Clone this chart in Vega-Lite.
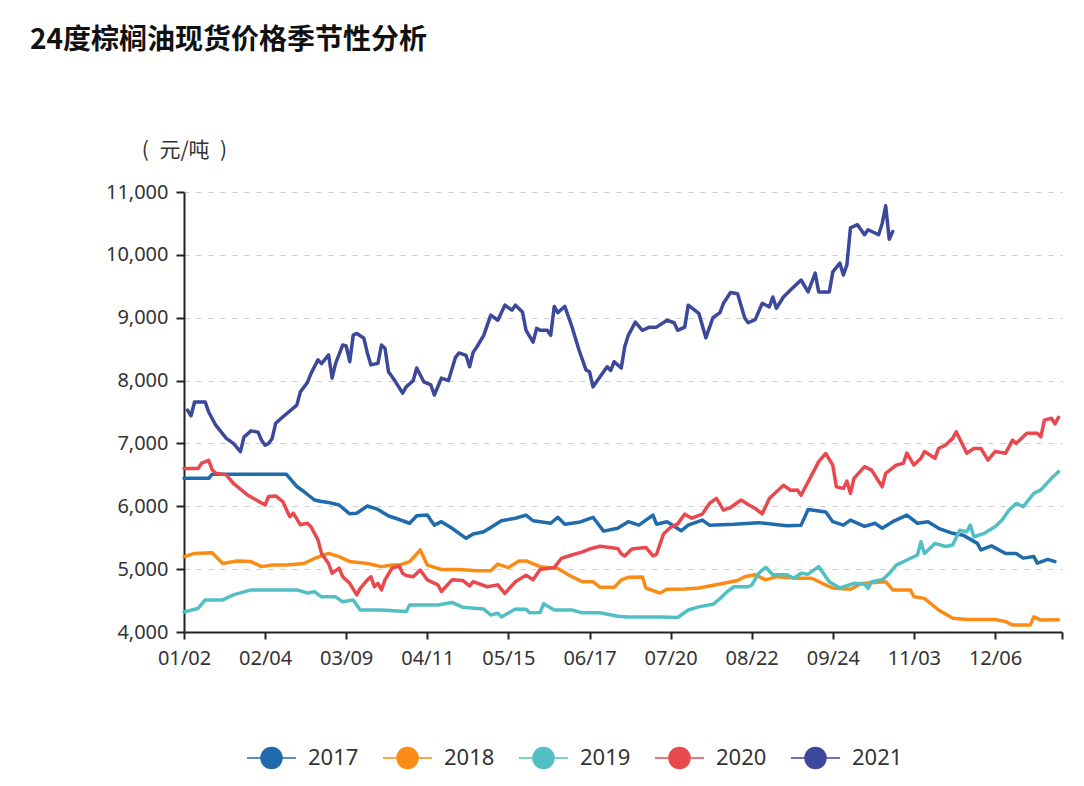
{
  "$schema": "https://vega.github.io/schema/vega-lite/v6.json",
  "width": 878,
  "height": 440,
  "autosize": {"type": "none"},
  "padding": {"left": 184, "top": 192, "right": 22, "bottom": 154},
  "background": "#ffffff",
  "title": {
    "text": "24度棕榈油现货价格季节性分析",
    "anchor": "start",
    "frame": "group",
    "orient": "top",
    "offset": 0,
    "dx": -154,
    "dy": -84,
    "font": "Noto Sans CJK SC",
    "fontSize": 28,
    "fontWeight": "bold",
    "color": "#111111"
  },
  "config": {
    "view": {"stroke": null},
    "axis": {"labelFont": "Noto Sans", "titleFont": "Noto Sans CJK SC"}
  },
  "data": {
    "values": [
      {"s":"2017","i":0,"v":6445},{"s":"2017","i":7,"v":6445},{"s":"2017","i":8,"v":6510},{"s":"2017","i":29,"v":6510},{"s":"2017","i":32,"v":6315},{"s":"2017","i":34,"v":6235},{"s":"2017","i":37,"v":6100},{"s":"2017","i":39,"v":6075},{"s":"2017","i":41,"v":6060},{"s":"2017","i":44,"v":6020},{"s":"2017","i":47,"v":5880},{"s":"2017","i":49,"v":5890},{"s":"2017","i":52,"v":6005},{"s":"2017","i":55,"v":5950},{"s":"2017","i":58,"v":5845},{"s":"2017","i":60,"v":5810},{"s":"2017","i":64,"v":5730},{"s":"2017","i":66,"v":5850},{"s":"2017","i":69,"v":5860},{"s":"2017","i":71,"v":5700},{"s":"2017","i":73,"v":5755},{"s":"2017","i":76,"v":5650},{"s":"2017","i":80,"v":5490},{"s":"2017","i":82,"v":5560},{"s":"2017","i":85,"v":5595},{"s":"2017","i":88,"v":5700},{"s":"2017","i":90,"v":5770},{"s":"2017","i":94,"v":5810},{"s":"2017","i":97,"v":5860},{"s":"2017","i":99,"v":5770},{"s":"2017","i":104,"v":5730},{"s":"2017","i":106,"v":5825},{"s":"2017","i":108,"v":5715},{"s":"2017","i":112,"v":5745},{"s":"2017","i":116,"v":5825},{"s":"2017","i":119,"v":5605},{"s":"2017","i":123,"v":5650},{"s":"2017","i":126,"v":5755},{"s":"2017","i":129,"v":5700},{"s":"2017","i":133,"v":5860},{"s":"2017","i":134,"v":5715},{"s":"2017","i":137,"v":5755},{"s":"2017","i":141,"v":5610},{"s":"2017","i":143,"v":5700},{"s":"2017","i":147,"v":5780},{"s":"2017","i":149,"v":5700},{"s":"2017","i":156,"v":5715},{"s":"2017","i":163,"v":5740},{"s":"2017","i":171,"v":5690},{"s":"2017","i":175,"v":5700},{"s":"2017","i":177,"v":5950},{"s":"2017","i":182,"v":5910},{"s":"2017","i":184,"v":5755},{"s":"2017","i":187,"v":5700},{"s":"2017","i":189,"v":5780},{"s":"2017","i":193,"v":5680},{"s":"2017","i":196,"v":5730},{"s":"2017","i":198,"v":5650},{"s":"2017","i":201,"v":5755},{"s":"2017","i":205,"v":5860},{"s":"2017","i":208,"v":5730},{"s":"2017","i":211,"v":5755},{"s":"2017","i":214,"v":5650},{"s":"2017","i":218,"v":5570},{"s":"2017","i":221,"v":5540},{"s":"2017","i":225,"v":5410},{"s":"2017","i":226,"v":5305},{"s":"2017","i":229,"v":5370},{"s":"2017","i":233,"v":5250},{"s":"2017","i":236,"v":5250},{"s":"2017","i":238,"v":5175},{"s":"2017","i":241,"v":5200},{"s":"2017","i":242,"v":5095},{"s":"2017","i":245,"v":5155},{"s":"2017","i":247,"v":5120},
      {"s":"2018","i":0,"v":5200},{"s":"2018","i":3,"v":5250},{"s":"2018","i":8,"v":5260},{"s":"2018","i":11,"v":5090},{"s":"2018","i":15,"v":5130},{"s":"2018","i":19,"v":5120},{"s":"2018","i":22,"v":5040},{"s":"2018","i":25,"v":5065},{"s":"2018","i":29,"v":5065},{"s":"2018","i":34,"v":5090},{"s":"2018","i":37,"v":5170},{"s":"2018","i":41,"v":5250},{"s":"2018","i":44,"v":5200},{"s":"2018","i":47,"v":5120},{"s":"2018","i":52,"v":5090},{"s":"2018","i":56,"v":5040},{"s":"2018","i":59,"v":5065},{"s":"2018","i":61,"v":5065},{"s":"2018","i":64,"v":5120},{"s":"2018","i":67,"v":5305},{"s":"2018","i":69,"v":5065},{"s":"2018","i":73,"v":4995},{"s":"2018","i":78,"v":4995},{"s":"2018","i":83,"v":4975},{"s":"2018","i":87,"v":4975},{"s":"2018","i":89,"v":5080},{"s":"2018","i":92,"v":5025},{"s":"2018","i":95,"v":5130},{"s":"2018","i":97,"v":5130},{"s":"2018","i":101,"v":5040},{"s":"2018","i":106,"v":5010},{"s":"2018","i":110,"v":4880},{"s":"2018","i":113,"v":4800},{"s":"2018","i":116,"v":4800},{"s":"2018","i":118,"v":4710},{"s":"2018","i":122,"v":4710},{"s":"2018","i":124,"v":4830},{"s":"2018","i":126,"v":4870},{"s":"2018","i":130,"v":4875},{"s":"2018","i":131,"v":4700},{"s":"2018","i":135,"v":4620},{"s":"2018","i":137,"v":4680},{"s":"2018","i":142,"v":4685},{"s":"2018","i":146,"v":4700},{"s":"2018","i":152,"v":4765},{"s":"2018","i":157,"v":4820},{"s":"2018","i":159,"v":4880},{"s":"2018","i":162,"v":4910},{"s":"2018","i":165,"v":4830},{"s":"2018","i":168,"v":4880},{"s":"2018","i":174,"v":4855},{"s":"2018","i":178,"v":4855},{"s":"2018","i":181,"v":4775},{"s":"2018","i":184,"v":4700},{"s":"2018","i":189,"v":4680},{"s":"2018","i":192,"v":4770},{"s":"2018","i":199,"v":4800},{"s":"2018","i":201,"v":4670},{"s":"2018","i":206,"v":4670},{"s":"2018","i":207,"v":4560},{"s":"2018","i":210,"v":4535},{"s":"2018","i":214,"v":4350},{"s":"2018","i":218,"v":4220},{"s":"2018","i":222,"v":4200},{"s":"2018","i":230,"v":4200},{"s":"2018","i":233,"v":4165},{"s":"2018","i":235,"v":4110},{"s":"2018","i":240,"v":4110},{"s":"2018","i":241,"v":4240},{"s":"2018","i":243,"v":4190},{"s":"2018","i":248,"v":4195},
      {"s":"2019","i":0,"v":4320},{"s":"2019","i":4,"v":4375},{"s":"2019","i":6,"v":4510},{"s":"2019","i":11,"v":4510},{"s":"2019","i":14,"v":4590},{"s":"2019","i":19,"v":4670},{"s":"2019","i":32,"v":4670},{"s":"2019","i":35,"v":4620},{"s":"2019","i":37,"v":4640},{"s":"2019","i":39,"v":4560},{"s":"2019","i":43,"v":4560},{"s":"2019","i":45,"v":4480},{"s":"2019","i":48,"v":4510},{"s":"2019","i":50,"v":4350},{"s":"2019","i":56,"v":4350},{"s":"2019","i":63,"v":4325},{"s":"2019","i":64,"v":4430},{"s":"2019","i":72,"v":4430},{"s":"2019","i":76,"v":4470},{"s":"2019","i":79,"v":4395},{"s":"2019","i":85,"v":4365},{"s":"2019","i":87,"v":4270},{"s":"2019","i":89,"v":4300},{"s":"2019","i":90,"v":4240},{"s":"2019","i":94,"v":4365},{"s":"2019","i":97,"v":4360},{"s":"2019","i":98,"v":4305},{"s":"2019","i":101,"v":4310},{"s":"2019","i":102,"v":4450},{"s":"2019","i":105,"v":4350},{"s":"2019","i":110,"v":4350},{"s":"2019","i":113,"v":4305},{"s":"2019","i":118,"v":4305},{"s":"2019","i":123,"v":4250},{"s":"2019","i":126,"v":4240},{"s":"2019","i":135,"v":4240},{"s":"2019","i":140,"v":4230},{"s":"2019","i":143,"v":4350},{"s":"2019","i":146,"v":4400},{"s":"2019","i":150,"v":4440},{"s":"2019","i":152,"v":4530},{"s":"2019","i":154,"v":4640},{"s":"2019","i":156,"v":4720},{"s":"2019","i":160,"v":4720},{"s":"2019","i":161,"v":4745},{"s":"2019","i":163,"v":4935},{"s":"2019","i":165,"v":5030},{"s":"2019","i":167,"v":4910},{"s":"2019","i":171,"v":4910},{"s":"2019","i":173,"v":4855},{"s":"2019","i":175,"v":4935},{"s":"2019","i":177,"v":4920},{"s":"2019","i":180,"v":5040},{"s":"2019","i":183,"v":4800},{"s":"2019","i":186,"v":4700},{"s":"2019","i":190,"v":4775},{"s":"2019","i":193,"v":4760},{"s":"2019","i":194,"v":4695},{"s":"2019","i":195,"v":4800},{"s":"2019","i":198,"v":4830},{"s":"2019","i":200,"v":4930},{"s":"2019","i":202,"v":5065},{"s":"2019","i":205,"v":5145},{"s":"2019","i":208,"v":5225},{"s":"2019","i":209,"v":5435},{"s":"2019","i":210,"v":5250},{"s":"2019","i":213,"v":5410},{"s":"2019","i":216,"v":5360},{"s":"2019","i":218,"v":5385},{"s":"2019","i":220,"v":5620},{"s":"2019","i":222,"v":5595},{"s":"2019","i":223,"v":5700},{"s":"2019","i":224,"v":5515},{"s":"2019","i":227,"v":5570},{"s":"2019","i":230,"v":5675},{"s":"2019","i":232,"v":5780},{"s":"2019","i":234,"v":5940},{"s":"2019","i":236,"v":6045},{"s":"2019","i":238,"v":5995},{"s":"2019","i":241,"v":6205},{"s":"2019","i":243,"v":6260},{"s":"2019","i":246,"v":6445},{"s":"2019","i":248,"v":6550},
      {"s":"2020","i":0,"v":6600},{"s":"2020","i":4,"v":6600},{"s":"2020","i":5,"v":6685},{"s":"2020","i":7,"v":6730},{"s":"2020","i":8,"v":6580},{"s":"2020","i":9,"v":6525},{"s":"2020","i":12,"v":6500},{"s":"2020","i":14,"v":6365},{"s":"2020","i":18,"v":6180},{"s":"2020","i":23,"v":6020},{"s":"2020","i":24,"v":6155},{"s":"2020","i":26,"v":6165},{"s":"2020","i":28,"v":6075},{"s":"2020","i":30,"v":5835},{"s":"2020","i":31,"v":5890},{"s":"2020","i":33,"v":5705},{"s":"2020","i":35,"v":5730},{"s":"2020","i":36,"v":5675},{"s":"2020","i":38,"v":5465},{"s":"2020","i":39,"v":5250},{"s":"2020","i":41,"v":5090},{"s":"2020","i":42,"v":4935},{"s":"2020","i":44,"v":5015},{"s":"2020","i":45,"v":4880},{"s":"2020","i":47,"v":4775},{"s":"2020","i":49,"v":4590},{"s":"2020","i":50,"v":4695},{"s":"2020","i":52,"v":4830},{"s":"2020","i":53,"v":4880},{"s":"2020","i":54,"v":4720},{"s":"2020","i":55,"v":4775},{"s":"2020","i":56,"v":4670},{"s":"2020","i":57,"v":4830},{"s":"2020","i":59,"v":5015},{"s":"2020","i":61,"v":5050},{"s":"2020","i":62,"v":4935},{"s":"2020","i":63,"v":4900},{"s":"2020","i":65,"v":4880},{"s":"2020","i":67,"v":4985},{"s":"2020","i":69,"v":4830},{"s":"2020","i":72,"v":4750},{"s":"2020","i":73,"v":4645},{"s":"2020","i":76,"v":4830},{"s":"2020","i":79,"v":4820},{"s":"2020","i":81,"v":4735},{"s":"2020","i":82,"v":4800},{"s":"2020","i":86,"v":4720},{"s":"2020","i":89,"v":4750},{"s":"2020","i":91,"v":4615},{"s":"2020","i":94,"v":4800},{"s":"2020","i":97,"v":4905},{"s":"2020","i":99,"v":4830},{"s":"2020","i":101,"v":4995},{"s":"2020","i":105,"v":5025},{"s":"2020","i":107,"v":5170},{"s":"2020","i":110,"v":5225},{"s":"2020","i":113,"v":5275},{"s":"2020","i":115,"v":5320},{"s":"2020","i":118,"v":5365},{"s":"2020","i":123,"v":5330},{"s":"2020","i":124,"v":5245},{"s":"2020","i":125,"v":5210},{"s":"2020","i":127,"v":5320},{"s":"2020","i":131,"v":5345},{"s":"2020","i":133,"v":5210},{"s":"2020","i":134,"v":5235},{"s":"2020","i":136,"v":5560},{"s":"2020","i":138,"v":5665},{"s":"2020","i":140,"v":5720},{"s":"2020","i":142,"v":5875},{"s":"2020","i":144,"v":5810},{"s":"2020","i":147,"v":5875},{"s":"2020","i":149,"v":6045},{"s":"2020","i":151,"v":6125},{"s":"2020","i":153,"v":5940},{"s":"2020","i":155,"v":5980},{"s":"2020","i":158,"v":6100},{"s":"2020","i":160,"v":6030},{"s":"2020","i":162,"v":5965},{"s":"2020","i":164,"v":5880},{"s":"2020","i":166,"v":6125},{"s":"2020","i":170,"v":6335},{"s":"2020","i":172,"v":6255},{"s":"2020","i":174,"v":6260},{"s":"2020","i":175,"v":6175},{"s":"2020","i":178,"v":6495},{"s":"2020","i":180,"v":6710},{"s":"2020","i":182,"v":6840},{"s":"2020","i":184,"v":6655},{"s":"2020","i":185,"v":6310},{"s":"2020","i":187,"v":6285},{"s":"2020","i":188,"v":6400},{"s":"2020","i":189,"v":6205},{"s":"2020","i":190,"v":6445},{"s":"2020","i":193,"v":6630},{"s":"2020","i":195,"v":6575},{"s":"2020","i":198,"v":6310},{"s":"2020","i":199,"v":6525},{"s":"2020","i":202,"v":6655},{"s":"2020","i":204,"v":6685},{"s":"2020","i":205,"v":6845},{"s":"2020","i":207,"v":6655},{"s":"2020","i":209,"v":6765},{"s":"2020","i":210,"v":6870},{"s":"2020","i":213,"v":6765},{"s":"2020","i":214,"v":6920},{"s":"2020","i":216,"v":6975},{"s":"2020","i":218,"v":7080},{"s":"2020","i":219,"v":7185},{"s":"2020","i":222,"v":6845},{"s":"2020","i":224,"v":6920},{"s":"2020","i":226,"v":6920},{"s":"2020","i":228,"v":6735},{"s":"2020","i":230,"v":6870},{"s":"2020","i":233,"v":6845},{"s":"2020","i":235,"v":7055},{"s":"2020","i":236,"v":7000},{"s":"2020","i":239,"v":7160},{"s":"2020","i":242,"v":7160},{"s":"2020","i":243,"v":7105},{"s":"2020","i":244,"v":7370},{"s":"2020","i":246,"v":7400},{"s":"2020","i":247,"v":7310},{"s":"2020","i":248,"v":7415},
      {"s":"2021","i":1,"v":7530},{"s":"2021","i":2,"v":7440},{"s":"2021","i":3,"v":7660},{"s":"2021","i":6,"v":7660},{"s":"2021","i":7,"v":7500},{"s":"2021","i":9,"v":7290},{"s":"2021","i":12,"v":7080},{"s":"2021","i":14,"v":7000},{"s":"2021","i":16,"v":6870},{"s":"2021","i":17,"v":7100},{"s":"2021","i":19,"v":7200},{"s":"2021","i":21,"v":7180},{"s":"2021","i":22,"v":7050},{"s":"2021","i":23,"v":6970},{"s":"2021","i":24,"v":7000},{"s":"2021","i":25,"v":7080},{"s":"2021","i":26,"v":7320},{"s":"2021","i":28,"v":7420},{"s":"2021","i":32,"v":7610},{"s":"2021","i":33,"v":7820},{"s":"2021","i":35,"v":7970},{"s":"2021","i":36,"v":8110},{"s":"2021","i":38,"v":8330},{"s":"2021","i":39,"v":8270},{"s":"2021","i":41,"v":8410},{"s":"2021","i":42,"v":8040},{"s":"2021","i":43,"v":8275},{"s":"2021","i":45,"v":8565},{"s":"2021","i":46,"v":8550},{"s":"2021","i":47,"v":8300},{"s":"2021","i":48,"v":8725},{"s":"2021","i":49,"v":8750},{"s":"2021","i":51,"v":8675},{"s":"2021","i":52,"v":8440},{"s":"2021","i":53,"v":8250},{"s":"2021","i":55,"v":8275},{"s":"2021","i":56,"v":8565},{"s":"2021","i":57,"v":8515},{"s":"2021","i":58,"v":8140},{"s":"2021","i":60,"v":7980},{"s":"2021","i":62,"v":7800},{"s":"2021","i":63,"v":7900},{"s":"2021","i":65,"v":8000},{"s":"2021","i":66,"v":8200},{"s":"2021","i":68,"v":7980},{"s":"2021","i":70,"v":7930},{"s":"2021","i":71,"v":7770},{"s":"2021","i":73,"v":8040},{"s":"2021","i":75,"v":8000},{"s":"2021","i":77,"v":8370},{"s":"2021","i":78,"v":8440},{"s":"2021","i":80,"v":8400},{"s":"2021","i":81,"v":8220},{"s":"2021","i":82,"v":8450},{"s":"2021","i":83,"v":8530},{"s":"2021","i":85,"v":8720},{"s":"2021","i":87,"v":9040},{"s":"2021","i":89,"v":8960},{"s":"2021","i":91,"v":9200},{"s":"2021","i":93,"v":9120},{"s":"2021","i":94,"v":9200},{"s":"2021","i":96,"v":9090},{"s":"2021","i":97,"v":8800},{"s":"2021","i":99,"v":8610},{"s":"2021","i":100,"v":8830},{"s":"2021","i":101,"v":8800},{"s":"2021","i":103,"v":8800},{"s":"2021","i":104,"v":8720},{"s":"2021","i":105,"v":9180},{"s":"2021","i":106,"v":9080},{"s":"2021","i":107,"v":9130},{"s":"2021","i":108,"v":9180},{"s":"2021","i":110,"v":8860},{"s":"2021","i":112,"v":8490},{"s":"2021","i":114,"v":8170},{"s":"2021","i":115,"v":8140},{"s":"2021","i":116,"v":7900},{"s":"2021","i":118,"v":8060},{"s":"2021","i":119,"v":8140},{"s":"2021","i":120,"v":8220},{"s":"2021","i":121,"v":8160},{"s":"2021","i":122,"v":8300},{"s":"2021","i":124,"v":8200},{"s":"2021","i":125,"v":8540},{"s":"2021","i":126,"v":8720},{"s":"2021","i":128,"v":8930},{"s":"2021","i":130,"v":8800},{"s":"2021","i":132,"v":8850},{"s":"2021","i":134,"v":8850},{"s":"2021","i":137,"v":8960},{"s":"2021","i":139,"v":8920},{"s":"2021","i":140,"v":8800},{"s":"2021","i":142,"v":8850},{"s":"2021","i":143,"v":9200},{"s":"2021","i":146,"v":9070},{"s":"2021","i":148,"v":8680},{"s":"2021","i":150,"v":9000},{"s":"2021","i":152,"v":9080},{"s":"2021","i":153,"v":9230},{"s":"2021","i":155,"v":9400},{"s":"2021","i":157,"v":9380},{"s":"2021","i":159,"v":9000},{"s":"2021","i":160,"v":8920},{"s":"2021","i":162,"v":8970},{"s":"2021","i":164,"v":9230},{"s":"2021","i":166,"v":9170},{"s":"2021","i":167,"v":9330},{"s":"2021","i":168,"v":9150},{"s":"2021","i":170,"v":9330},{"s":"2021","i":172,"v":9440},{"s":"2021","i":175,"v":9600},{"s":"2021","i":177,"v":9410},{"s":"2021","i":179,"v":9710},{"s":"2021","i":180,"v":9410},{"s":"2021","i":183,"v":9410},{"s":"2021","i":184,"v":9730},{"s":"2021","i":186,"v":9870},{"s":"2021","i":187,"v":9680},{"s":"2021","i":188,"v":9840},{"s":"2021","i":189,"v":10430},{"s":"2021","i":191,"v":10480},{"s":"2021","i":193,"v":10320},{"s":"2021","i":194,"v":10400},{"s":"2021","i":197,"v":10320},{"s":"2021","i":198,"v":10500},{"s":"2021","i":199,"v":10780},{"s":"2021","i":200,"v":10250},{"s":"2021","i":201,"v":10370}
    ]
  },
  "mark": {"type": "line", "strokeWidth": 3.5, "strokeJoin": "round", "strokeCap": "round"},
  "encoding": {
    "x": {
      "field": "i",
      "type": "quantitative",
      "scale": {"domain": [0, 249], "nice": false, "zero": false},
      "axis": {
        "title": null,
        "values": [0, 23, 46, 69, 92, 115, 138, 161, 184, 207, 230, 249],
        "labelExpr": "datum.value >= 240 ? '' : ['01/02','02/04','03/09','04/11','05/15','06/17','07/20','08/22','09/24','11/03','12/06'][round(datum.value / 23)]",
        "grid": false,
        "domainColor": "#222222",
        "domainWidth": 2,
        "tickColor": "#222222",
        "tickWidth": 2,
        "tickSize": 7,
        "labelFontSize": 20,
        "labelColor": "#333333",
        "labelPadding": 9,
        "labelFlush": false,
        "labelOverlap": false
      }
    },
    "y": {
      "field": "v",
      "type": "quantitative",
      "scale": {"domain": [4000, 11000], "nice": false, "zero": false},
      "axis": {
        "title": "(\u2002元/吨\u2002)",
        "titleAngle": 0,
        "titleX": 0,
        "titleY": -42,
        "titleAlign": "center",
        "titleBaseline": "middle",
        "titleFontSize": 21,
        "titleFontWeight": "normal",
        "titleColor": "#333333",
        "values": [4000, 5000, 6000, 7000, 8000, 9000, 10000, 11000],
        "format": ",.0f",
        "grid": true,
        "gridDash": [5, 7],
        "gridColor": "#cccccc",
        "gridWidth": 1,
        "domainColor": "#222222",
        "domainWidth": 2,
        "tickColor": "#222222",
        "tickWidth": 2,
        "tickSize": 8,
        "labelFontSize": 20,
        "labelColor": "#333333",
        "labelPadding": 8
      }
    },
    "color": {
      "field": "s",
      "type": "nominal",
      "scale": {
        "domain": ["2017", "2018", "2019", "2020", "2021"],
        "range": ["#1f6bab", "#f98b16", "#52bfc4", "#e8494f", "#3c4899"]
      },
      "legend": {
        "title": null,
        "orient": "none",
        "direction": "horizontal",
        "legendX": 62,
        "legendY": 540,
        "padding": 0,
        "symbolType": "M-1,0L1,0M-0.43,0A0.43,0.43,0,1,1,0.43,0A0.43,0.43,0,1,1,-0.43,0Z",
        "symbolSize": 2401,
        "symbolStrokeWidth": 1.5,
        "labelFont": "Noto Sans",
        "labelFontSize": 22,
        "labelColor": "#333333",
        "labelOffset": 11,
        "columnPadding": 21,
        "encoding": {
          "symbols": {
            "fill": {"value": {"expr": "scale('color', datum.value)"}},
            "fillOpacity": {"value": 1}
          }
        }
      }
    },
    "order": {"field": "i", "type": "quantitative"}
  }
}
